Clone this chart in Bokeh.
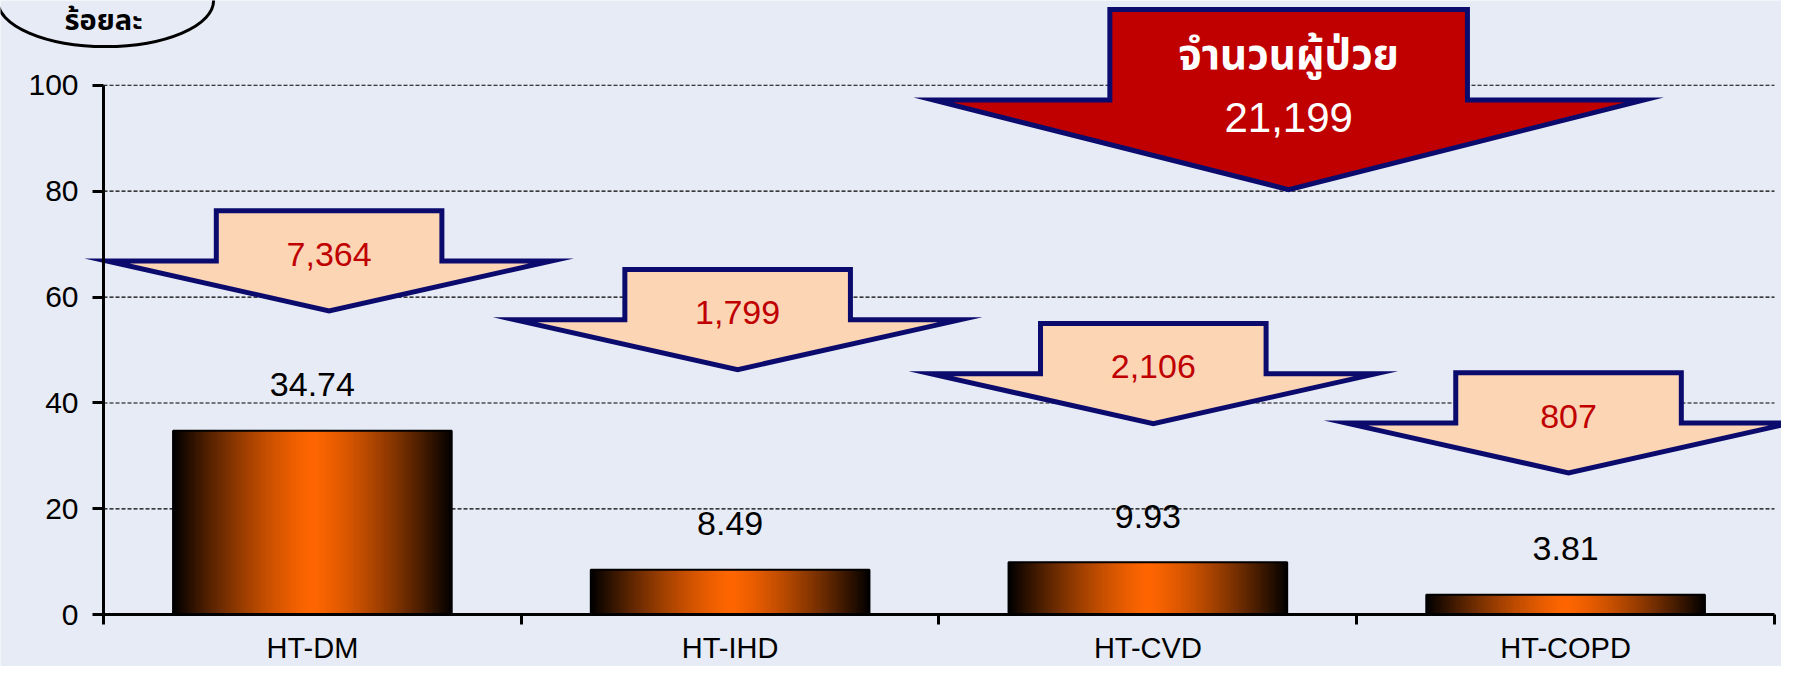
import numpy as np
from bokeh.plotting import figure
from bokeh.models import LinearAxis, FixedTicker
from bokeh.core.properties import value
from bokeh.embed import file_html
from bokeh.resources import INLINE

# ---------------- data ----------------
categories = ["HT-DM", "HT-IHD", "HT-CVD", "HT-COPD"]
percent = [34.74, 8.49, 9.93, 3.81]
percent_labels = ["34.74", "8.49", "9.93", "3.81"]
patients = ["7,364", "1,799", "2,106", "807"]
total_title = "จำนวนผู้ป่วย"
total_patients = "21,199"
y_ticks = [0, 20, 40, 60, 80, 100]
y_title = "ร้อยละ"

# ---------------- layout constants ----------------
W, H = 1781, 666
FONT = "Liberation Sans"
THAI = "Noto Sans Thai, Noto Sans, sans-serif"
NAVY = "#0b0b6e"
centers = [i + 0.5 for i in range(len(categories))]

p = figure(width=W, height=H, x_range=(-0.2466, 4.0168), y_range=(-9.76, 116.0),
           output_backend="svg", toolbar_location=None, min_border=0,
           x_axis_type=None, y_axis_type=None)
p.background_fill_color = "#e7ebf5"
p.border_fill_color = "#e7ebf5"
p.outline_line_color = None

# dashed grid lines (between axis ends)
gy = y_ticks[1:]
p.segment(x0=[0] * len(gy), x1=[len(categories)] * len(gy), y0=gy, y1=gy,
          line_color="black", line_dash="4 2", line_width=1.2)

# bars with horizontal gradient (black edges -> orange centre)
bar_w = 0.667
N = 240
f = (np.arange(N) + 0.5) / N
t = np.abs(f - 0.5) * 2
s = np.clip(1 - t ** 1.35, 0, 1)
r = (255 * s).astype(np.uint32)
g = (102 * s).astype(np.uint32)
b = np.zeros(N, dtype=np.uint32)
a = np.full(N, 255, dtype=np.uint32)
grad = (a << 24) | (b << 16) | (g << 8) | r
grad_img = grad.reshape(1, N)
p.image_rgba(image=[grad_img] * len(percent), x=[c - bar_w / 2 for c in centers],
             y=[0] * len(percent), dw=[bar_w] * len(percent), dh=percent)
p.vbar(x=centers, top=percent, bottom=0, width=bar_w, fill_color=None,
       line_color="black", line_width=2)

# value labels
p.text(x=centers, y=percent, text=percent_labels, y_offset=-46,
       text_align="center", text_baseline="middle", text_color="black",
       text_font=value(FONT), text_font_size="34px")

# small down arrows (peach) with patient counts
arrow_cx = [0.54, 1.518, 2.513, 3.507]
arrow_tip = [57.4, 46.3, 36.1, 26.8]
hs, hw, hh, sh = 0.27, 0.532, 9.4, 9.5


def arrow(cx, ty, hs, hw, hh, sh):
    xs = [cx - hs, cx + hs, cx + hs, cx + hw, cx, cx - hw, cx - hs]
    ys = [ty + hh + sh, ty + hh + sh, ty + hh, ty + hh, ty, ty + hh, ty + hh]
    return xs, ys


axs, ays = [], []
for cx, ty in zip(arrow_cx, arrow_tip):
    xa, ya = arrow(cx, ty, hs, hw, hh, sh)
    axs.append(xa)
    ays.append(ya)
p.patches(xs=axs, ys=ays, fill_color="#fcd5b5", line_color=NAVY, line_width=5,
          line_join="miter")
p.text(x=arrow_cx, y=[tt + 10.7 for tt in arrow_tip], text=patients,
       text_align="center", text_baseline="middle", text_color="#c00000",
       text_font=value(FONT), text_font_size="34px")

# big red arrow with total
bcx, btip = 2.837, 80.3
bx, by = arrow(bcx, btip, 0.428, 0.85, 16.9, 17.1)
p.patch(x=bx, y=by, fill_color="#c00000", line_color=NAVY, line_width=5, line_join="miter")
p.text(x=[bcx], y=[105.6], text=[total_title], text_align="center", text_baseline="middle",
       text_color="white", text_font=value(THAI), text_font_size="42px", text_font_style="bold")
p.text(x=[bcx], y=[94.0], text=[total_patients], text_align="center", text_baseline="middle",
       text_color="white", text_font=value(FONT), text_font_size="42px")

# y unit label in ellipse (top-left)
p.ellipse(x=[0.005], y=[116.0], width=[216], height=[92], width_units="screen",
          height_units="screen", fill_color=None, line_color="black", line_width=3)
p.text(x=[0.0], y=[112.2], text=[y_title], text_align="center", text_baseline="middle",
       text_color="black", text_font=value(THAI), text_font_size="29px", text_font_style="bold")

# y axis
yaxis = LinearAxis(fixed_location=0, bounds=(0, 100), ticker=FixedTicker(ticks=y_ticks))
yaxis.axis_line_width = 3
yaxis.major_tick_line_width = 3
yaxis.major_tick_out = 11
yaxis.major_tick_in = 0
yaxis.minor_tick_line_color = None
yaxis.major_label_standoff = 14
yaxis.major_label_text_font = FONT
yaxis.major_label_text_font_size = "30px"
yaxis.major_label_text_color = "black"
p.add_layout(yaxis, "left")

# x axis (line + separator ticks)
xaxis = LinearAxis(fixed_location=0, bounds=(0, len(categories)),
                   ticker=FixedTicker(ticks=list(range(len(categories) + 1))))
xaxis.axis_line_width = 3
xaxis.major_tick_line_width = 3
xaxis.major_tick_out = 10
xaxis.major_tick_in = 0
xaxis.minor_tick_line_color = None
xaxis.major_label_text_color = None
xaxis.major_label_text_font_size = "1px"
p.add_layout(xaxis, "below")

# x axis category labels
laxis = LinearAxis(fixed_location=0, ticker=FixedTicker(ticks=centers),
                   major_label_overrides={c: n for c, n in zip(centers, categories)})
laxis.axis_line_color = None
laxis.major_tick_line_color = None
laxis.minor_tick_line_color = None
laxis.major_tick_out = 0
laxis.major_tick_in = 0
laxis.major_label_standoff = 17
laxis.major_label_text_font = FONT
laxis.major_label_text_font_size = "29px"
laxis.major_label_text_color = "black"
p.add_layout(laxis, "below")

open("out.html", "w").write(file_html(p, INLINE))
